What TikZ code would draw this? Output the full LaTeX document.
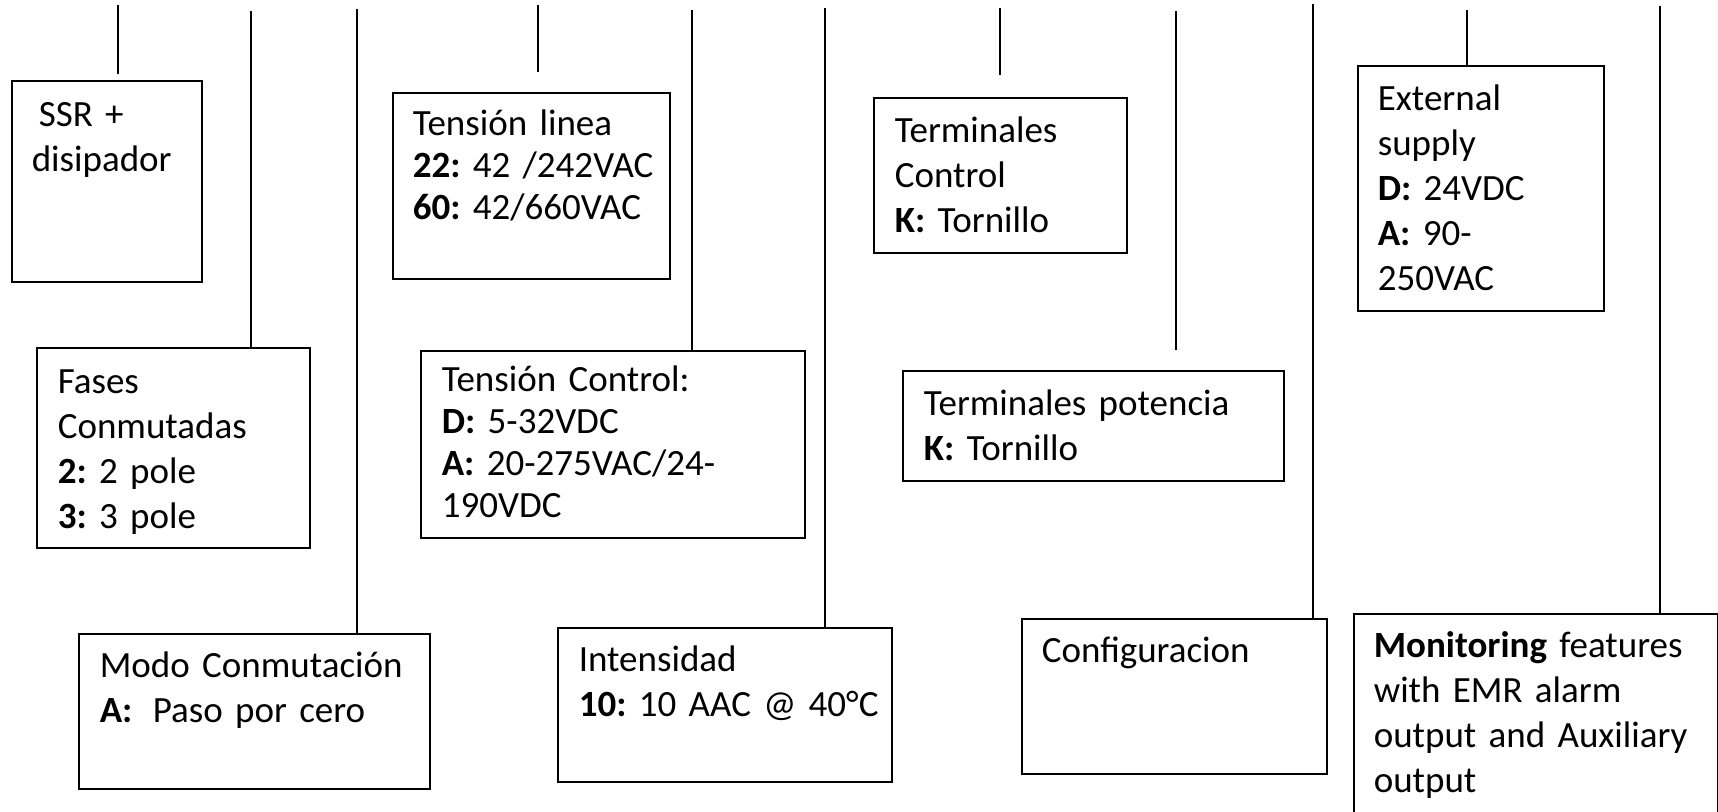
\documentclass[tikz,border=0pt]{standalone}
\usepackage{fontspec}
\setmainfont{Carlito}
\newcommand{\nohyph}{\hyphenpenalty=10000\exhyphenpenalty=10000\frenchspacing\relax}
\tikzset{
  box/.style={draw, line width=0.8pt, anchor=north west, align=left, inner ysep=0pt,
    font=\fontsize{18.5}{22.5}\selectfont\nohyph},
  tightbox/.style={box, font=\fontsize{18.5}{21}\selectfont\nohyph},
  lead/.style={line width=1.3pt},
}
\begin{document}
\begin{tikzpicture}[x=0.5pt,y=-0.5pt]
\useasboundingbox (0,0) rectangle (1718,811);
\clip (0,0) rectangle (1718,811);
% boxes
\node[box, text width=75pt, inner xsep=10pt, text height=23pt, text depth=77.5pt] (ssr) at (11,80)
  {\hspace*{3.5pt}SSR~+\\disipador};
\node[box, text width=115.5pt, inner xsep=10.5pt, text height=23pt, text depth=77pt] (fases) at (36,347)
  {Fases\\Conmutadas\\\textbf{2:}~2~pole\\\textbf{3:}~3~pole};
\node[box, text width=154.5pt, inner xsep=10.5pt, text height=22pt, text depth=55.5pt] (modo) at (78,633)
  {Modo~Conmutación\\\textbf{A:}\hspace{4pt}~Paso~por~cero};
\node[tightbox, text width=118.5pt, inner xsep=10pt, text height=21.5pt, text depth=71.5pt] (tlinea) at (392,92)
  {Tensión~linea\\\textbf{22:}~42~/242VAC\\\textbf{60:}~42/660VAC};
\node[tightbox, text width=171pt, inner xsep=10.5pt, text height=20.5pt, text depth=73pt] (tctl) at (420,350)
  {Tensión~Control:\\\textbf{D:}~5-32VDC\\\textbf{A:}~20-275VAC/24-\\190VDC};
\node[box, text width=146pt, inner xsep=10.5pt, text height=22pt, text depth=55pt] (intens) at (557,627)
  {Intensidad\\\textbf{10:}~10~AAC~@~40°C};
\node[box, text width=105.5pt, inner xsep=10.5pt, text height=22.5pt, text depth=55pt] (termc) at (873,97)
  {Terminales\\Control\\\textbf{K:}~Tornillo};
\node[box, text width=169.5pt, inner xsep=10.5pt, text height=22.5pt, text depth=32.5pt] (tpot) at (902,370)
  {Terminales~potencia\\\textbf{K:}~Tornillo};
\node[box, text width=132.5pt, inner xsep=10pt, text height=22pt, text depth=55.5pt] (config) at (1021,618)
  {Configuracion};
\node[box, text width=103pt, inner xsep=10pt, text height=22.5pt, text depth=100pt] (ext) at (1357,65)
  {External\\supply\\\textbf{D:}~24VDC\\\textbf{A:}~90-\\250VAC};
\node[box, text width=162pt, inner xsep=10pt, text height=22pt, text depth=86.5pt] (monit) at (1353,613)
  {\textbf{Monitoring}~features\\with~EMR~alarm\\output~and~Auxiliary\\output};
% leads
\coordinate (t1) at (118,5);
\coordinate (t2) at (251,11);
\coordinate (t3) at (357,9);
\coordinate (t4) at (538,5);
\coordinate (t5) at (692,10);
\coordinate (t6) at (825,8);
\coordinate (t7) at (1000,8);
\coordinate (t8) at (1176,11);
\coordinate (t9) at (1313,4);
\coordinate (t10) at (1467,10);
\coordinate (t11) at (1660,6);
\draw[lead, shorten >=3pt] (t1) -- (t1 |- ssr.north);
\draw[lead] (t2) -- (t2 |- fases.north);
\draw[lead] (t3) -- (t3 |- modo.north);
\draw[lead, shorten >=10pt] (t4) -- (t4 |- tlinea.north);
\draw[lead] (t5) -- (t5 |- tctl.north);
\draw[lead] (t6) -- (t6 |- intens.north);
\draw[lead, shorten >=11pt] (t7) -- (t7 |- termc.north);
\draw[lead, shorten >=10pt] (t8) -- (t8 |- tpot.north);
\draw[lead] (t9) -- (t9 |- config.north);
\draw[lead] (t10) -- (t10 |- ext.north);
\draw[lead] (t11) -- (t11 |- monit.north);
\end{tikzpicture}
\end{document}
